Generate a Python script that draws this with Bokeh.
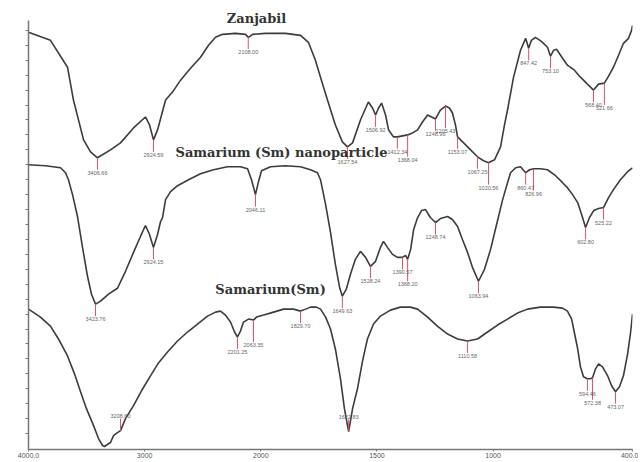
import numpy as np
from bokeh.plotting import figure
from bokeh.models import Range1d, FixedTicker, ColumnDataSource
from bokeh.embed import file_html
from bokeh.resources import INLINE
from bokeh.core.properties import value

# ---------------- data (wavenumber cm-1, transmittance a.u.) ----------------
zanj_wn = [4000, 3811, 3664, 3613, 3526, 3466, 3406, 3294, 3208, 3096, 2993, 2958, 2924, 2889,
           2820, 2760, 2691, 2605, 2519, 2450, 2390, 2330, 2218, 2132, 2106, 2071, 1980, 1894,
           1829, 1795, 1765, 1743, 1713, 1679, 1649, 1627, 1605, 1571, 1537, 1519, 1506, 1493,
           1480, 1463, 1450, 1429, 1412, 1390, 1368, 1347, 1325, 1304, 1282, 1265, 1248, 1227,
           1205, 1188, 1175, 1162, 1153, 1140, 1127, 1097, 1067, 1041, 1020, 994, 968, 951, 938,
           912, 882, 860, 847, 835, 818, 792, 766, 753, 740, 727, 701, 680, 650, 624, 594, 568,
           546, 521, 503, 482, 460, 439, 417, 404, 400]
zanj_t = [421, 413, 386, 353, 313, 301, 295, 303, 310, 325, 336, 328, 313, 323,
          353, 361, 373, 385, 396, 408, 416, 419, 420, 419, 416, 419, 420, 420,
          418, 411, 393, 376, 353, 328, 311, 306, 310, 333, 351, 345, 338, 345,
          350, 338, 323, 316, 316, 317, 318, 320, 323, 331, 338, 336, 334, 343,
          347, 345, 340, 328, 316, 313, 310, 303, 296, 292, 290, 293, 306, 328, 343,
          376, 403, 415, 405, 413, 416, 412, 406, 397, 403, 404, 395, 388, 383, 376, 369, 363,
          369, 370, 377, 386, 398, 410, 415, 423, 428]

nano_wn = [4000, 3854, 3724, 3681, 3656, 3621, 3578, 3535, 3492, 3458, 3423, 3380, 3311, 3234,
           3165, 3096, 3036, 2993, 2958, 2924, 2889, 2863, 2846, 2820, 2777, 2717, 2622, 2519,
           2407, 2287, 2175, 2114, 2080, 2046, 2020, 1997, 1958, 1894, 1829, 1786, 1756, 1743,
           1721, 1700, 1679, 1661, 1649, 1632, 1614, 1593, 1571, 1549, 1528, 1506, 1485, 1472,
           1455, 1433, 1412, 1390, 1377, 1368, 1355, 1342, 1325, 1308, 1291, 1270, 1248, 1227,
           1196, 1175, 1153, 1132, 1110, 1089, 1063, 1037, 1011, 985, 959, 938, 925, 903, 882,
           860, 843, 826, 796, 766, 731, 701, 680, 658, 636, 619, 602, 585, 567, 546, 525, 503,
           482, 452, 421, 400]
nano_t = [288, 287, 285, 280, 273, 258, 236, 205, 176, 158, 148, 151, 158, 164,
          181, 200, 216, 227, 218, 205, 218, 231, 235, 253, 261, 267, 273, 279,
          283, 286, 286, 284, 273, 258, 271, 282, 286, 287, 286, 283, 280, 273,
          248, 220, 188, 165, 156, 163, 178, 193, 201, 195, 186, 191, 205, 211,
          205, 198, 195, 195, 197, 193, 203, 223, 235, 242, 243, 235, 230, 234,
          236, 233, 226, 213, 200, 185, 171, 183, 203, 228, 253, 270, 280, 285, 286,
          280, 283, 284, 284, 283, 277, 270, 265, 258, 250, 238, 225, 235, 242, 244, 245, 255,
          263, 273, 281, 285]

sm_wn = [4000, 3897, 3811, 3742, 3664, 3604, 3552, 3501, 3440, 3397, 3363, 3346, 3294, 3268,
         3234, 3208, 3165, 3096, 3027, 2950, 2881, 2803, 2717, 2631, 2545, 2459, 2390, 2347,
         2304, 2261, 2226, 2201, 2175, 2149, 2106, 2063, 2037, 1988, 1945, 1902, 1859, 1829,
         1807, 1786, 1760, 1743, 1721, 1700, 1679, 1657, 1640, 1622, 1605, 1584, 1562, 1541,
         1515, 1485, 1442, 1399, 1356, 1325, 1282, 1240, 1196, 1153, 1110, 1067, 1024, 981,
         938, 895, 852, 796, 740, 701, 680, 662, 649, 636, 624, 611, 594, 581, 572, 559, 546,
         529, 507, 490, 473, 456, 439, 421, 408, 400]
sm_t = [143, 135, 126, 113, 96, 78, 60, 43, 26, 13, 6, 5, 9, 16,
        19, 21, 33, 46, 61, 76, 89, 100, 111, 120, 128, 136, 140, 141,
        137, 130, 120, 115, 121, 130, 133, 132, 135, 137, 140, 143, 143, 141,
        143, 145, 145, 143, 135, 123, 103, 73, 43, 20, 43, 63, 91, 113,
        128, 136, 142, 145, 145, 143, 135, 126, 118, 113, 111, 113, 120, 127,
        133, 139, 143, 145, 145, 144, 141, 133, 118, 103, 85, 75, 73, 73, 74, 83, 88,
        85, 76, 66, 60, 65, 76, 98, 120, 138]

zanj_peaks = [3406, 2924, 2108, 1627, 1506, 1412, 1368, 1248, 1205, 1153, 1067, 1020, 847, 753, 568, 521]
zanj_labels = ["3406.66", "2924.59", "2108.00", "1627.54", "1506.92", "1412.34", "1368.04", "1248.96",
               "1205.43", "1153.07", "1067.25", "1020.56", "847.42", "753.10", "568.40", "521.66"]
nano_peaks = [3423, 2924, 2046, 1649, 1528, 1390, 1368, 1248, 1063, 860, 826, 602, 525]
nano_labels = ["3423.76", "2924.15", "2046.11", "1649.63", "1528.24", "1390.57", "1368.20", "1248.74",
               "1063.94", "860.47", "826.96", "602.80", "525.22"]
sm_peaks = [3208, 2201, 2063, 1829, 1622, 1110, 594, 572, 473]
sm_labels = ["3208.60", "2201.25", "2063.35", "1829.70", "1622.83", "1110.58", "594.46", "572.38", "473.07"]

names = ["Zanjabil", "Samarium (Sm) nanoparticle", "Samarium(Sm)"]
name_wn = [2037, 1911, 1958]
name_t = [435, 300, 163]

tick_wn = [4000, 3000, 2000, 1500, 1000, 400]
tick_text = ["4000.0", "3000", "2000", "1500", "1000", "400.0"]


# piecewise wavenumber axis: 4000-2000 compressed, 2000-400 expanded (x2)
def tx(wn):
    wn = np.asarray(wn, dtype=float)
    return np.where(wn >= 2000, 4000 - wn, 2000 + 2 * (2000 - wn))


p = figure(width=638, height=460, output_backend="svg", toolbar_location=None,
           x_range=Range1d(0, 5200), y_range=Range1d(2, 453),
           min_border_left=28, min_border_right=6, min_border_top=0, min_border_bottom=0)
p.outline_line_color = None
p.grid.visible = False
p.background_fill_color = "white"
p.border_fill_color = "white"

curve_color = "#3c3c3c"
mark_color = "#e0506a"
for wn, t in [(zanj_wn, zanj_t), (nano_wn, nano_t), (sm_wn, sm_t)]:
    p.line(tx(wn), t, line_color=curve_color, line_width=1.6)

# peak markers
for wn, t, pk, lab in [(zanj_wn, zanj_t, zanj_peaks, zanj_labels),
                        (nano_wn, nano_t, nano_peaks, nano_labels),
                        (sm_wn, sm_t, sm_peaks, sm_labels)]:
    cx = tx(wn)
    px_ = tx(pk)
    order = np.argsort(cx)
    py = np.interp(px_, cx[order], np.asarray(t, float)[order])
    tier = 0
    prev = -1e9
    xs, y0s, y1s, ty, tb, tl = [], [], [], [], [], []
    for x, y, l in zip(px_, py, lab):
        if x - prev < 140:
            tier = 1 - tier
        else:
            tier = 0
        prev = x
        drop = 12 + 10 * tier
        if y - drop - 10 < 3:
            y1 = y + drop
            ty.append(y1 + 1); tb.append("bottom")
        else:
            y1 = y - drop
            ty.append(y1 - 1); tb.append("top")
        xs.append(float(x)); y0s.append(float(y)); y1s.append(float(y1)); tl.append(l)
    p.segment(x0=xs, y0=y0s, x1=xs, y1=y1s, line_color=mark_color, line_width=1)
    src = ColumnDataSource(dict(x=xs, y=ty, text=tl, base=tb))
    p.text(x="x", y="y", text="text", source=src, text_baseline="base", text_align="center",
           text_font=value("Liberation Sans"), text_font_size="5.5px", text_color="#666666")

# trace names
p.text(x=tx(name_wn), y=name_t, text=names, text_align="center", text_baseline="middle",
       text_font=value("DejaVu Serif"), text_font_style="bold", text_font_size="13px",
       text_color="#333333")

# axes
p.xaxis.ticker = FixedTicker(ticks=[float(v) for v in tx(tick_wn)])
p.xaxis.major_label_overrides = {float(k): v for k, v in zip(tx(tick_wn), tick_text)}
p.xaxis.minor_tick_line_color = None
p.xaxis.major_tick_out = 2
p.xaxis.major_tick_in = 0
p.xaxis.major_label_standoff = 1
p.xaxis.major_label_text_font_size = "7px"
p.xaxis.major_label_text_font = "Liberation Sans"
p.xaxis.major_label_text_color = "#555555"
p.xaxis.axis_line_color = "#777777"
p.xaxis.axis_line_width = 1.5
p.xaxis.major_tick_line_color = "#777777"

p.yaxis.ticker = FixedTicker(ticks=[], minor_ticks=list(range(18, 434, 15)))
p.yaxis.bounds = (2, 433)
p.yaxis.minor_tick_out = 3
p.yaxis.minor_tick_in = 0
p.yaxis.minor_tick_line_color = "#777777"
p.yaxis.major_label_standoff = 0
p.yaxis.axis_line_color = "#777777"
p.yaxis.axis_line_width = 1.5

open("out.html", "w").write(file_html(p, INLINE))
